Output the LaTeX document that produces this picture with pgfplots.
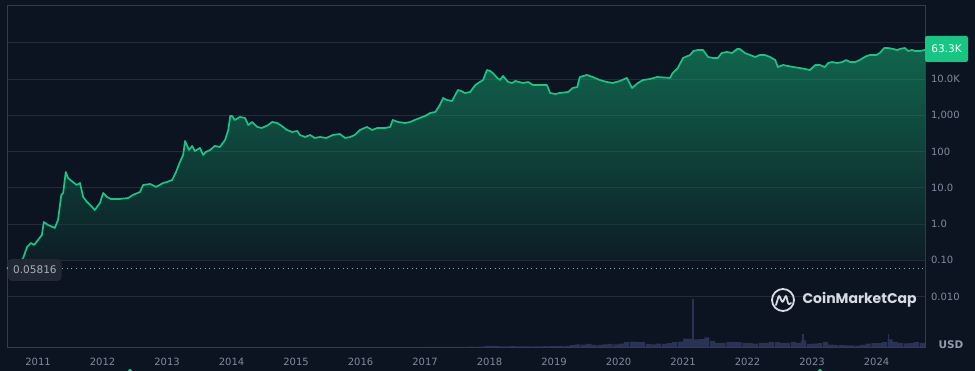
\documentclass[border=0pt]{standalone}
\usepackage{pgfplots}
\pgfplotsset{compat=1.18}
\usepackage{pgfplotstable}
\usepackage{fontspec}
\setmainfont{DejaVu Sans}
\newfontfamily\logofont{Poppins}
\definecolor{bg}{RGB}{13,20,33}
\definecolor{gridc}{RGB}{38,43,56}
\definecolor{framec}{RGB}{54,59,72}
\definecolor{tickc}{RGB}{128,138,157}
\definecolor{cmcgreen}{RGB}{22,199,132}
\definecolor{volc}{RGB}{42,50,88}
\definecolor{boxc}{RGB}{34,39,52}
\definecolor{boxt}{RGB}{170,175,190}
\definecolor{logoc}{RGB}{215,219,226}

\pgfplotstableread{
year price
2010.52 0.0582
2010.60 0.079
2010.67 0.069
2010.72 0.089
2010.77 0.115
2010.83 0.232
2010.89 0.299
2010.94 0.264
2011.00 0.362
2011.06 0.497
2011.09 1.135
2011.155 0.938
2011.23 0.826
2011.26 0.776
2011.31 1.29
2011.36 6.31
2011.39 7.16
2011.43 27.2
2011.465 18.6
2011.54 14.4
2011.60 11.9
2011.65 13.5
2011.70 5.56
2011.76 4.05
2011.81 3.34
2011.88 2.43
2011.96 3.80
2012.01 7.16
2012.07 5.56
2012.13 4.90
2012.27 4.90
2012.40 5.21
2012.47 6.31
2012.58 7.64
2012.63 11.9
2012.74 12.7
2012.83 10.5
2012.94 13.5
2013.00 14.4
2013.08 16.4
2013.14 27.2
2013.20 51.3
2013.25 80.0
2013.28 195
2013.34 110
2013.39 142
2013.43 103
2013.51 125
2013.56 80.0
2013.60 96.9
2013.67 110
2013.74 142
2013.82 133
2013.90 208
2013.95 392
2013.98 953
2014.01 953
2014.05 740
2014.13 895
2014.21 840
2014.26 538
2014.32 651
2014.40 474
2014.47 445
2014.57 538
2014.63 651
2014.71 611
2014.78 505
2014.86 392
2014.94 345
2015.02 368
2015.06 285
2015.14 251
2015.22 285
2015.29 236
2015.37 251
2015.47 236
2015.57 285
2015.68 304
2015.76 236
2015.84 251
2015.91 285
2015.99 392
2016.10 474
2016.18 392
2016.26 445
2016.38 445
2016.46 474
2016.50 740
2016.58 651
2016.69 611
2016.77 651
2016.84 740
2016.92 840
2017.00 953
2017.08 1153
2017.16 1230
2017.23 1920
2017.28 2990
2017.34 2640
2017.42 2470
2017.51 4970
2017.56 4670
2017.62 4110
2017.70 4380
2017.78 6830
2017.85 8260
2017.90 9380
2017.96 17700
2018.01 16600
2018.05 14600
2018.12 10700
2018.16 9380
2018.21 12100
2018.29 8260
2018.35 7760
2018.40 8810
2018.52 7760
2018.60 8260
2018.67 6830
2018.78 6830
2018.89 6830
2018.94 4110
2019.02 3860
2019.09 4110
2019.22 4380
2019.29 5650
2019.36 6010
2019.40 11350
2019.51 12900
2019.60 11350
2019.71 9380
2019.82 8260
2019.91 7760
2020.02 8810
2020.13 10700
2020.21 5650
2020.30 7760
2020.38 9380
2020.49 10000
2020.60 11350
2020.80 10700
2020.84 14600
2020.92 20100
2021.00 38000
2021.11 45900
2021.16 59200
2021.23 63100
2021.31 63100
2021.39 40400
2021.47 38000
2021.54 38000
2021.60 52100
2021.68 55600
2021.76 52100
2021.84 67300
2021.88 67300
2021.96 52100
2022.04 45900
2022.12 40400
2022.19 45900
2022.27 45900
2022.35 40400
2022.43 33400
2022.47 21400
2022.55 24300
2022.63 22800
2022.71 21400
2022.81 20100
2022.89 18900
2022.97 17700
2023.05 24300
2023.12 24300
2023.20 21400
2023.25 27600
2023.31 29400
2023.39 27600
2023.47 29400
2023.53 33400
2023.59 29400
2023.67 29400
2023.74 33400
2023.79 38000
2023.85 43100
2023.90 45900
2024.00 45900
2024.05 52100
2024.12 71600
2024.18 71600
2024.26 67300
2024.32 63100
2024.36 67300
2024.44 71600
2024.49 59200
2024.55 63100
2024.60 59200
2024.67 59200
2024.752 63300
}\pricedata

\pgfplotstableread{
year vol
2017.04 0.2
2017.12 0.2
2017.21 0.3
2017.29 0.5
2017.37 1.0
2017.46 1.2
2017.54 1.0
2017.62 1.5
2017.71 1.8
2017.79 1.5
2017.87 3.0
2017.96 9.0
2018.04 8
2018.12 6
2018.21 5
2018.29 5
2018.37 6
2018.46 4.5
2018.54 4.5
2018.62 4.5
2018.71 4.3
2018.79 4.0
2018.87 5.5
2018.96 5.5
2019.04 6
2019.12 8
2019.21 9
2019.29 13
2019.37 20
2019.46 18
2019.54 22
2019.62 16
2019.71 15
2019.79 19
2019.87 22
2019.96 20
2020.04 25
2020.12 35
2020.21 40
2020.29 38
2020.37 35
2020.46 22
2020.54 20
2020.62 24
2020.71 22
2020.79 28
2020.87 35
2020.96 40
2021.04 62
2021.12 60
2021.21 55
2021.29 58
2021.37 70
2021.46 45
2021.54 30
2021.62 30
2021.71 35
2021.79 38
2021.87 35
2021.96 30
2022.04 28
2022.12 25
2022.21 30
2022.29 30
2022.37 38
2022.46 36
2022.54 30
2022.62 30
2022.71 38
2022.79 30
2022.87 48
2022.96 22
2023.04 25
2023.12 28
2023.21 38
2023.29 18
2023.37 14
2023.46 14
2023.54 12
2023.62 12
2023.71 10
2023.79 16
2023.87 25
2023.96 28
2024.04 28
2024.12 35
2024.21 55
2024.29 38
2024.37 30
2024.46 26
2024.54 28
2024.62 36
2024.71 30
}\voldata

\begin{document}
\begin{tikzpicture}
\useasboundingbox (0,0) rectangle (975pt,371pt);
\fill[bg] (0,0) rectangle (975pt,371pt);
\begin{axis}[
  at={(7pt,24pt)}, anchor=south west, scale only axis,
  width=918pt, height=342pt,
  xmin=2010.519, xmax=2024.752,
  ymode=log, ymin=4.04e-4, ymax=1.1e6,
  axis line style={framec, line width=0.8pt},
  xtick={2011,2012,2013,2014,2015,2016,2017,2018,2019,2020,2021,2022,2023,2024},
  xticklabels={2011,2012,2013,2014,2015,2016,2017,2018,2019,2020,2021,2022,2023,2024},
  ytick={0.01,0.1,1,10,100,1000,10000,100000},
  yticklabels={0.010,0.10,1.0,10.0,100,{1,000},10.0K,{}},
  yticklabel pos=right,
  ymajorgrids, grid style={gridc, line width=0.8pt},
  major tick length=0pt, minor tick length=0pt,
  tick style={draw=none}, minor tick style={draw=none},
  yminorticks=false,
  ticklabel style={font=\fontsize{10}{12}\selectfont, text=tickc},
  yticklabel style={anchor=west, xshift=2.5pt},
  xticklabel style={yshift=-8pt},
  clip=false,
]
\addplot[draw=none, fill opacity=0.45, top color=cmcgreen, bottom color=cmcgreen!8!bg, forget plot]
  table[x=year,y=price]{\pricedata}
  -- (axis cs:2024.752,0.1) -- (axis cs:2010.519,0.1) -- cycle;
\addplot[tickc!80!white, line width=1pt, dash pattern=on 1pt off 3.6pt] coordinates {(2010.519,0.05816) (2024.752,0.05816)};
\addplot[cmcgreen, line width=1.7pt, line join=round] table[x=year,y=price]{\pricedata};
\end{axis}
\begin{axis}[
  at={(7pt,24pt)}, anchor=south west, scale only axis,
  width=918pt, height=342pt,
  xmin=2010.519, xmax=2024.752, ymin=0, ymax=2500,
  hide axis,
]
\addplot[ybar, bar width=5pt, fill=volc, draw=none] table[x=year,y=vol]{\voldata};
\addplot[ycomb, volc, line width=1.2pt] coordinates {(2021.155,350) (2022.86,95) (2024.18,95)};
\end{axis}
% labels
\node[anchor=west, fill=boxc, rounded corners=4pt, text=boxt, inner xsep=5pt, minimum height=22pt, font=\fontsize{10.5}{12}\selectfont] at (8pt,101pt) {0.05816};
\node[fill=cmcgreen, text=white, rounded corners=2pt, minimum height=26pt, minimum width=43pt, inner sep=0pt, font=\fontsize{10.5}{12}\selectfont] at (946.5pt,322pt) {63.3K};
\node[text=tickc!85!white, font=\bfseries\fontsize{10.5}{12}\selectfont] at (951pt,26pt) {USD};
% logo
\draw[logoc, line width=1.8pt] (783pt,71pt) circle (11pt);
\draw[logoc, line width=1.8pt, line join=round, line cap=round, rounded corners=2pt]
  (776pt,66pt) -- (779pt,76pt) -- (782.5pt,68pt) -- (786pt,76pt) -- (788.5pt,66pt) -- (791pt,68pt);
\node[anchor=west, text=logoc, font=\logofont\bfseries\fontsize{14}{16}\selectfont] at (799pt,71pt) {CoinMarketCap};
\fill[cmcgreen] (130pt,0pt) circle (2pt);
\fill[cmcgreen] (820pt,0pt) circle (2pt);
\end{tikzpicture}
\end{document}
